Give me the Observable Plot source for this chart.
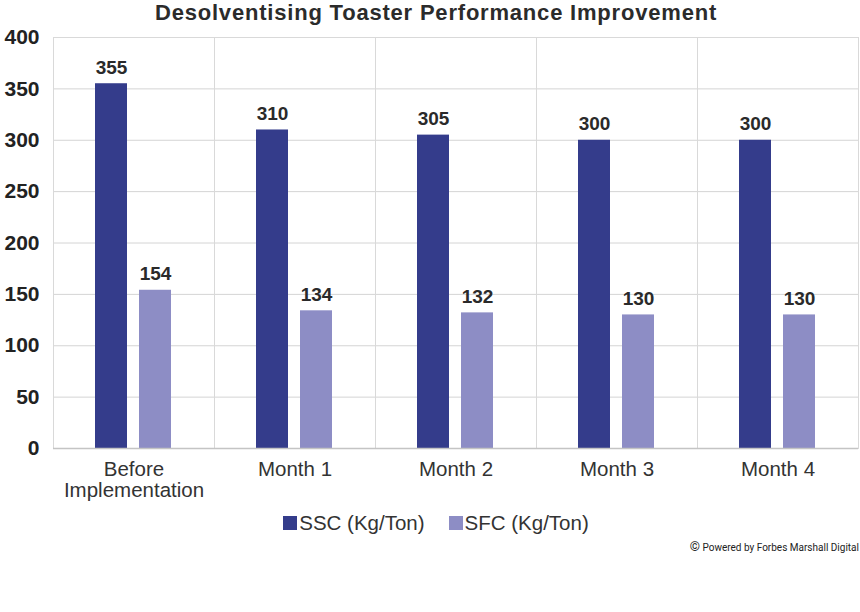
<!DOCTYPE html>
<html>
<head>
<meta charset="utf-8">
<script src="https://cdn.jsdelivr.net/npm/d3@7"></script>
<script src="https://cdn.jsdelivr.net/npm/@observablehq/plot@0.6"></script>
<style>
  body { margin: 0; background: #fff; width: 860px; height: 612px; overflow: hidden; font-family: "Liberation Sans", Arial, sans-serif; }
  #title { height: 24px; line-height: 25.3px; overflow: visible; text-align: center; font-family: "Liberation Sans", Arial, sans-serif; font-weight: bold; font-size: 22px; letter-spacing: 0.8px; color: #2b2b2b; padding-left: 12px; }
  #chart svg { display: block; }
  #legend { display: flex; justify-content: center; gap: 24px; font-size: 20.5px; line-height: 24px; color: #333; margin-top: 1px; padding-left: 12px; }
  #legend .item { display: flex; align-items: center; }
  #legend .sw { width: 14px; height: 14px; margin-right: 2px; }
  #footer { text-align: right; font-family: Roboto, "Liberation Sans", sans-serif; font-size: 10px; color: #222; margin-top: 4px; padding-right: 1px; }
</style>
</head>
<body>
<div id="title">Desolventising Toaster Performance Improvement</div>
<div id="chart"></div>
<div id="legend"></div>
<div id="footer"><span style="font-size:13px">&#169;</span> Powered by Forbes Marshall Digital</div>
<script>
const categories = ["Before Implementation", "Month 1", "Month 2", "Month 3", "Month 4"];
const categoryLabels = ["Before\nImplementation", "Month 1", "Month 2", "Month 3", "Month 4"];
const series = ["SSC (Kg/Ton)", "SFC (Kg/Ton)"];
const sscValues = [355, 310, 305, 300, 300];
const sfcValues = [154, 134, 132, 130, 130];
const colors = ["#343c8b", "#8d8dc5"];
const yTicks = [0, 50, 100, 150, 200, 250, 300, 350, 400];

const data = [];
categories.forEach((c, i) => {
  data.push({cat: c, series: series[0], value: sscValues[i]});
  data.push({cat: c, series: series[1], value: sfcValues[i]});
});

const chart = Plot.plot({
  width: 860,
  height: 486,
  marginTop: 13,
  marginBottom: 62,
  marginLeft: 52,
  marginRight: 1,
  style: {fontFamily: '"Liberation Sans", Arial, sans-serif', background: "#fff"},
  fx: {domain: categories, padding: 0, label: null},
  x: {domain: series, paddingInner: 0.267, paddingOuter: 0.929, axis: null},
  y: {domain: [0, 400], label: null},
  color: {domain: series, range: colors},
  marks: [
    Plot.gridY(yTicks, {stroke: "#d4d4d4", strokeOpacity: 1}),
    Plot.frame({stroke: "#d9d9d9"}),
    Plot.barY(data, {fx: "cat", x: "series", y: "value", fill: "series"}),
    Plot.ruleY([0], {stroke: "#c4c4c4", strokeWidth: 1.5}),
    Plot.text(data, {fx: "cat", x: "series", y: "value", text: d => String(d.value), dy: -16, fontWeight: "bold", fontSize: 19, fill: "#2a2a2a"}),
    Plot.axisY(yTicks, {tickSize: 0, tickPadding: 14, fontSize: 21, fontWeight: "bold", fill: "#222", label: null}),
    Plot.axisFx({anchor: "bottom", tickSize: 0, tickPadding: 12, fontSize: 20.5, fill: "#333", label: null, lineHeight: 1.05,
      tickFormat: d => categoryLabels[categories.indexOf(d)]})
  ]
});
document.getElementById("chart").appendChild(chart);

const legend = document.getElementById("legend");
series.forEach((s, i) => {
  const item = document.createElement("div");
  item.className = "item";
  const sw = document.createElement("span");
  sw.className = "sw";
  sw.style.background = colors[i];
  const t = document.createElement("span");
  t.textContent = s;
  item.appendChild(sw);
  item.appendChild(t);
  legend.appendChild(item);
});
</script>
</body>
</html>
